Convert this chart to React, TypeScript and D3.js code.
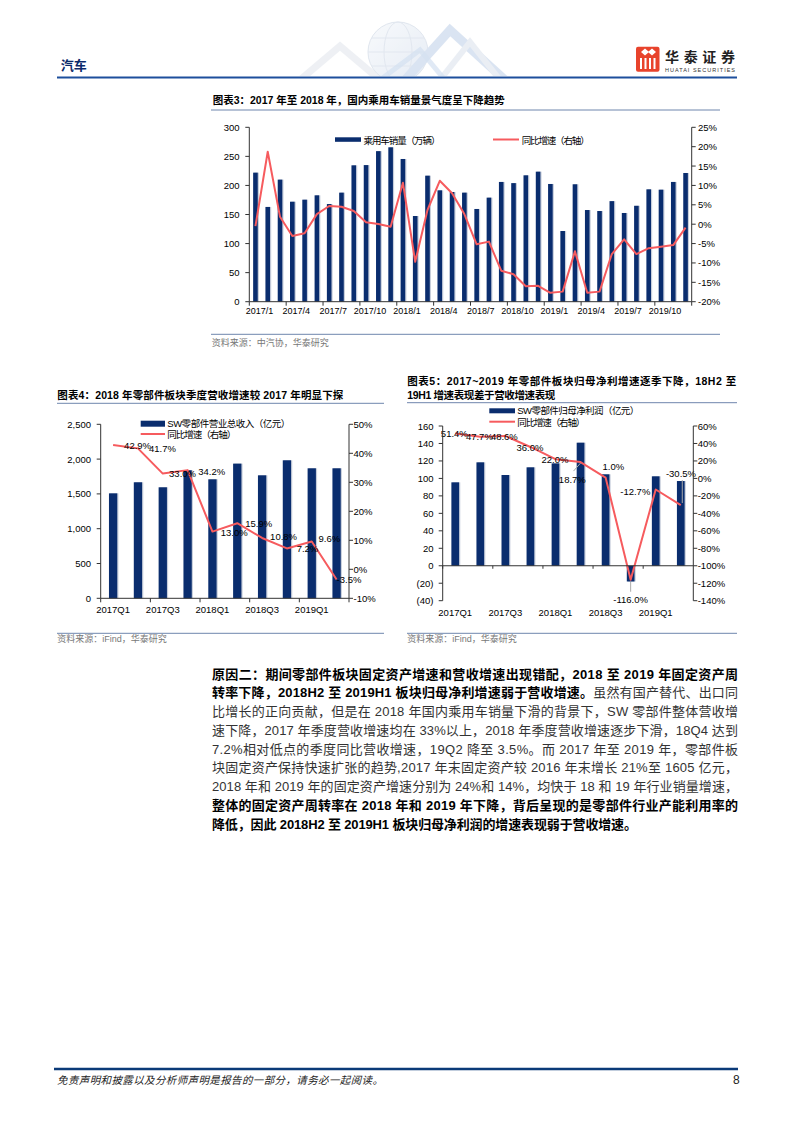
import React from "react";
import * as d3 from "d3";

// ---------- DATA ----------
const months = [
  "2017/1","2017/2","2017/3","2017/4","2017/5","2017/6","2017/7","2017/8","2017/9","2017/10","2017/11","2017/12",
  "2018/1","2018/2","2018/3","2018/4","2018/5","2018/6","2018/7","2018/8","2018/9","2018/10","2018/11","2018/12",
  "2019/1","2019/2","2019/3","2019/4","2019/5","2019/6","2019/7","2019/8","2019/9","2019/10","2019/11","2019/12",
];
const salesVolume = [
  222, 163, 210, 172, 175.5, 183, 168, 187.6, 234.6, 235, 259, 265.6,
  245.5, 147.4, 216.8, 191.6, 188.7, 187.6, 159.5, 179, 206, 204, 217.4, 223.7,
  202.5, 121.6, 202, 157.7, 156, 173, 152.6, 165, 193.3, 192.7, 206, 221.4,
];
const salesYoY = [
  -0.5, 18.7, 1.9, -3.05, -2.36, 2.6, 4.7, 4.5, 3.4, 0.5, 0.05, -0.64,
  10.7, -9.7, 3.66, 11.2, 8.0, 2.6, -5.2, -4.5, -12.0, -12.9, -16.0, -15.9,
  -17.7, -17.4, -7.0, -17.7, -17.4, -7.7, -3.9, -7.7, -6.2, -5.8, -5.4, -0.9,
];
const salesLeftTicks = [0, 50, 100, 150, 200, 250, 300];
const salesRightTicks = [-20, -15, -10, -5, 0, 5, 10, 15, 20, 25];

const quarters = ["2017Q1","2017Q2","2017Q3","2017Q4","2018Q1","2018Q2","2018Q3","2018Q4","2019Q1","2019Q2"];
const revenue = [1508, 1667, 1595, 1840, 1710, 1935, 1767, 1983, 1868, 1868];
const revenueYoY = [42.9, 41.7, 33.0, 34.2, 13.0, 15.9, 10.8, 7.2, 9.6, -3.5];
const revenueLeftTicks = [0, 500, 1000, 1500, 2000, 2500];
const revenueRightTicks = [-10, 0, 10, 20, 30, 40, 50];

const netProfit = [95.5, 118.4, 103.9, 112.7, 117.2, 140.9, 104.7, -18, 102.4, 97];
const profitYoY = [51.4, 47.7, 48.6, 36.0, 22.0, 18.7, 1.0, -116.0, -12.7, -30.5];
const profitLeftTicks = [-40, -20, 0, 20, 40, 60, 80, 100, 120, 140, 160];
const profitRightTicks = [-140, -120, -100, -80, -60, -40, -20, 0, 20, 40, 60];

// label layout offsets (px)
const revLabelOffsets = [[11,1],[11,0.6],[6.3,0],[10.7,1],[8.3,1],[8,0],[8,-1.3],[9.7,0],[6.7,-2.5],[0,0]];
const profLabelOffsets = [[-0.9,0],[-0.9,0],[-1,0.7],[-0.4,0.7],[-0.5,0],[-8.2,17.3],[7.7,-10.9],[0,19.6],[-20.4,1.5],[0.2,-31.7]];

const paragraph = [
  { w: 526, segs: [["原因二：期间零部件板块固定资产增速和营收增速出现错配，2018 至 2019 年固定资产周", true]] },
  { w: 526, segs: [["转率下降，2018H2 至 2019H1 板块归母净利增速弱于营收增速。", true], ["虽然有国产替代、出口同", false]] },
  { w: 526, segs: [["比增长的正向贡献，但是在 2018 年国内乘用车销量下滑的背景下，SW 零部件整体营收增", false]] },
  { w: 526, segs: [["速下降，2017 年季度营收增速均在 33%以上，2018 年季度营收增速逐步下滑，18Q4 达到", false]] },
  { w: 526, segs: [["7.2%相对低点的季度同比营收增速，19Q2 降至 3.5%。而 2017 年至 2019 年，零部件板", false]] },
  { w: 526, segs: [["块固定资产保持快速扩张的趋势,2017 年末固定资产较 2016 年末增长 21%至 1605 亿元，", false]] },
  { w: 526, segs: [["2018 年和 2019 年的固定资产增速分别为 24%和 14%，均快于 18 和 19 年行业销量增速，", false]] },
  { w: 526, segs: [["整体的固定资产周转率在 2018 年和 2019 年下降，背后呈现的是零部件行业产能利用率的", true]] },
  { w: 425, segs: [["降低，因此 2018H2 至 2019H1 板块归母净利润的增速表现弱于营收增速。", true]] },
];

// ---------- STYLE ----------
const FONT = "'Liberation Sans', Arial, 'Noto Sans CJK SC', sans-serif";
const CJK = "'Noto Sans CJK SC', sans-serif";
const BAR = "#0a2d6e";
const BAR_SHADOW = "#c7cedb";
const LINE = "#f65b5e";
const AXIS = "#333";
const RULE = "#6f86ad";

function SalesChart() {
  const left = 249.3, right = 691.7, top = 127.3, bottom = 301.7;
  const x = d3.scaleBand<string>().domain(months).range([left, right]);
  const yL = d3.scaleLinear().domain([0, 300]).range([bottom, top]);
  const yR = d3.scaleLinear().domain([-20, 25]).range([bottom, top]);
  const bw = 4.6;
  const cx = (m: string) => (x(m) as number) + x.bandwidth() / 2;
  const line = d3.line<number>().x((_, i) => cx(months[i])).y((d) => yR(d));
  return (
    <g fontFamily={FONT}>
      <text x={212.7} y={100} fontSize={10.5} fontWeight="bold" dominantBaseline="central" fontFamily={FONT} textLength={292}>
        图表3：2017 年至 2018 年，国内乘用车销量景气度呈下降趋势
      </text>
      <line x1={211} x2={720} y1={110} y2={110} stroke={RULE} strokeWidth={1} />
      {months.map((m, i) => (
        <g key={m}>
          <rect x={cx(m) - bw / 2 + 1.2} y={yL(salesVolume[i])} width={bw} height={bottom - yL(salesVolume[i])} fill={BAR_SHADOW} />
          <rect x={cx(m) - bw / 2} y={yL(salesVolume[i])} width={bw} height={bottom - yL(salesVolume[i])} fill={BAR} />
        </g>
      ))}
      <path d={line(salesYoY) || ""} fill="none" stroke={LINE} strokeWidth={2} strokeLinejoin="round" />
      <line x1={left} x2={left} y1={top} y2={bottom} stroke={AXIS} />
      <line x1={right} x2={right} y1={top} y2={bottom} stroke={AXIS} />
      <line x1={left} x2={right} y1={bottom} y2={bottom} stroke={AXIS} />
      {salesLeftTicks.map((t) => (
        <g key={"l" + t}>
          <line x1={left - 4} x2={left} y1={yL(t)} y2={yL(t)} stroke={AXIS} />
          <text x={239.5} y={yL(t)} fontSize={9.5} textAnchor="end" dominantBaseline="central">{t}</text>
        </g>
      ))}
      {salesRightTicks.map((t) => (
        <g key={"r" + t}>
          <line x1={right} x2={right + 4} y1={yR(t)} y2={yR(t)} stroke={AXIS} />
          <text x={698} y={yR(t)} fontSize={9.5} dominantBaseline="central">{t + "%"}</text>
        </g>
      ))}
      {months.map((m, i) =>
        i % 3 === 0 ? (
          <g key={"x" + m}>
            <line x1={x(m) as number} x2={x(m) as number} y1={bottom} y2={bottom + 4} stroke={AXIS} />
            <text x={cx(m) + 4} y={310.5} fontSize={9} textAnchor="middle" dominantBaseline="central">{m}</text>
          </g>
        ) : null
      )}
      <line x1={right} x2={right} y1={bottom} y2={bottom + 4} stroke={AXIS} />
      <rect x={335} y={137.3} width={26} height={4.5} fill={BAR} />
      <text x={363.5} y={139.5} fontSize={9.5} fontFamily={CJK} dominantBaseline="central" textLength={77}>乘用车销量（万辆）</text>
      <line x1={493} x2={519} y1={139.5} y2={139.5} stroke={LINE} strokeWidth={2} />
      <text x={521.7} y={139.5} fontSize={9.5} fontFamily={CJK} dominantBaseline="central" textLength={68}>同比增速（右轴）</text>
      <line x1={211} x2={720} y1={334.3} y2={334.3} stroke={RULE} strokeWidth={1} />
      <text x={211.7} y={342.7} fontSize={9} fill="#777" fontFamily={CJK} dominantBaseline="central">资料来源：中汽协，华泰研究</text>
    </g>
  );
}

function RevenueChart() {
  const left = 100.7, right = 349, top = 424.3, bottom = 598.3;
  const x = d3.scaleBand<string>().domain(quarters).range([left, right]);
  const yL = d3.scaleLinear().domain([0, 2500]).range([bottom, top]);
  const yR = d3.scaleLinear().domain([-10, 50]).range([bottom, top]);
  const bw = 8.3;
  const cx = (q: string) => (x(q) as number) + x.bandwidth() / 2;
  const line = d3.line<number>().x((_, i) => cx(quarters[i])).y((d) => yR(d));
  const fmt = d3.format(",");
  return (
    <g fontFamily={FONT}>
      <text x={57.3} y={395} fontSize={10.5} fontWeight="bold" dominantBaseline="central" textLength={286}>
        图表4：2018 年零部件板块季度营收增速较 2017 年明显下探
      </text>
      <line x1={57} x2={384} y1={403.3} y2={403.3} stroke={RULE} strokeWidth={1} />
      {quarters.map((q, i) => (
        <g key={q}>
          <rect x={cx(q) - bw / 2 + 1.2} y={yL(revenue[i])} width={bw} height={bottom - yL(revenue[i])} fill={BAR_SHADOW} />
          <rect x={cx(q) - bw / 2} y={yL(revenue[i])} width={bw} height={bottom - yL(revenue[i])} fill={BAR} />
        </g>
      ))}
      <path d={line(revenueYoY) || ""} fill="none" stroke={LINE} strokeWidth={2} strokeLinejoin="round" />
      {revenueYoY.map((v, i) => (
        <text key={"lab" + i} x={cx(quarters[i]) + revLabelOffsets[i][0]} y={yR(v) + revLabelOffsets[i][1]} fontSize={9.5} dominantBaseline="central">
          {v.toFixed(1) + "%"}
        </text>
      ))}
      <line x1={left} x2={left} y1={top} y2={bottom} stroke={AXIS} />
      <line x1={right} x2={right} y1={top} y2={bottom} stroke={AXIS} />
      <line x1={left} x2={right} y1={bottom} y2={bottom} stroke={AXIS} />
      {revenueLeftTicks.map((t) => (
        <g key={"l" + t}>
          <line x1={left - 4} x2={left} y1={yL(t)} y2={yL(t)} stroke={AXIS} />
          <text x={91} y={yL(t)} fontSize={9.5} textAnchor="end" dominantBaseline="central">{fmt(t)}</text>
        </g>
      ))}
      {revenueRightTicks.map((t) => (
        <g key={"r" + t}>
          <line x1={right} x2={right + 4} y1={yR(t)} y2={yR(t)} stroke={AXIS} />
          <text x={353.5} y={yR(t)} fontSize={9.5} dominantBaseline="central">{t + "%"}</text>
        </g>
      ))}
      {quarters.map((q, i) =>
        i % 2 === 0 ? (
          <g key={"x" + q}>
            <line x1={x(q) as number} x2={x(q) as number} y1={bottom} y2={bottom + 4} stroke={AXIS} />
            <text x={cx(q)} y={609.3} fontSize={9.5} textAnchor="middle" dominantBaseline="central">{q}</text>
          </g>
        ) : null
      )}
      <line x1={right} x2={right} y1={bottom} y2={bottom + 4} stroke={AXIS} />
      <rect x={140.7} y={420.7} width={24.3} height={6} fill={BAR} />
      <text x={167.3} y={423.7} fontSize={9.5} dominantBaseline="central" textLength={123}>SW零部件营业总收入（亿元）</text>
      <line x1={140.7} x2={165} y1={434} y2={434} stroke={LINE} strokeWidth={2} />
      <text x={167.3} y={434} fontSize={9.5} fontFamily={CJK} dominantBaseline="central" textLength={69}>同比增速（右轴）</text>
      <line x1={57} x2={384} y1={633.3} y2={633.3} stroke={RULE} strokeWidth={1} />
      <text x={57.3} y={638.5} fontSize={9} fill="#777" dominantBaseline="central">资料来源：iFind，华泰研究</text>
    </g>
  );
}

function ProfitChart() {
  const left = 442.7, right = 693.3, top = 426, bottom = 600.7;
  const x = d3.scaleBand<string>().domain(quarters).range([left, right]);
  const yL = d3.scaleLinear().domain([-40, 160]).range([bottom, top]);
  const yR = d3.scaleLinear().domain([-140, 60]).range([bottom, top]);
  const bw = 7.7;
  const zero = yL(0);
  const cx = (q: string) => (x(q) as number) + x.bandwidth() / 2;
  const line = d3.line<number>().x((_, i) => cx(quarters[i])).y((d) => yR(d));
  const fmtL = (t: number) => (t < 0 ? `(${Math.abs(t)})` : `${t}`);
  const leaders = [
    [cx(quarters[5]), yR(profitYoY[5]) + 1, cx(quarters[5]) - 7, yR(profitYoY[5]) + 9],
    [cx(quarters[7]), yR(profitYoY[7]) + 2, cx(quarters[7]), yR(profitYoY[7]) + 12],
    [cx(quarters[9]) + 1.5, yR(profitYoY[9]) - 25, cx(quarters[9]) + 1.5, yR(profitYoY[9]) - 2],
  ];
  return (
    <g fontFamily={FONT}>
      <text x={407.3} y={380.7} fontSize={10.5} fontWeight="bold" dominantBaseline="central" textLength={329}>
        图表5：2017~2019 年零部件板块归母净利增速逐季下降，18H2 至
      </text>
      <text x={407.3} y={395} fontSize={10.5} fontWeight="bold" dominantBaseline="central" textLength={148}>
        19H1 增速表现差于营收增速表现
      </text>
      <line x1={407} x2={737} y1={402.7} y2={402.7} stroke={RULE} strokeWidth={1} />
      {quarters.map((q, i) => {
        const y0 = Math.min(yL(netProfit[i]), zero);
        const h = Math.abs(yL(netProfit[i]) - zero);
        return (
          <g key={q}>
            <rect x={cx(q) - bw / 2 + 1.2} y={y0} width={bw} height={h} fill={BAR_SHADOW} />
            <rect x={cx(q) - bw / 2} y={y0} width={bw} height={h} fill={BAR} />
          </g>
        );
      })}
      {leaders.map((l, i) => (
        <line key={"ld" + i} x1={l[0]} y1={l[1]} x2={l[2]} y2={l[3]} stroke="#aaa" strokeWidth={1} />
      ))}
      <path d={line(profitYoY) || ""} fill="none" stroke={LINE} strokeWidth={2} strokeLinejoin="round" />
      {profitYoY.map((v, i) => (
        <text key={"lab" + i} x={cx(quarters[i]) + profLabelOffsets[i][0]} y={yR(v) + profLabelOffsets[i][1]} fontSize={9.5} textAnchor="middle" dominantBaseline="central">
          {v.toFixed(1) + "%"}
        </text>
      ))}
      <line x1={left} x2={left} y1={top} y2={bottom} stroke={AXIS} />
      <line x1={right} x2={right} y1={top} y2={bottom} stroke={AXIS} />
      <line x1={left} x2={right} y1={zero} y2={zero} stroke={AXIS} />
      {profitLeftTicks.map((t) => (
        <g key={"l" + t}>
          <line x1={left - 4} x2={left} y1={yL(t)} y2={yL(t)} stroke={AXIS} />
          <text x={433.5} y={yL(t)} fontSize={9.5} textAnchor="end" dominantBaseline="central">{fmtL(t)}</text>
        </g>
      ))}
      {profitRightTicks.map((t) => (
        <g key={"r" + t}>
          <line x1={right} x2={right + 4} y1={yR(t)} y2={yR(t)} stroke={AXIS} />
          <text x={697.7} y={yR(t)} fontSize={9.5} dominantBaseline="central">{t + "%"}</text>
        </g>
      ))}
      {quarters.map((q, i) =>
        i % 2 === 0 ? (
          <g key={"x" + q}>
            <line x1={x(q) as number} x2={x(q) as number} y1={zero} y2={zero + 3} stroke={AXIS} />
            <text x={cx(q)} y={612.7} fontSize={9.5} textAnchor="middle" dominantBaseline="central">{q}</text>
          </g>
        ) : null
      )}
      <rect x={489.3} y={408.3} width={25.7} height={5} fill={BAR} />
      <text x={517.3} y={410.8} fontSize={9.5} dominantBaseline="central" textLength={122}>SW零部件归母净利润（亿元）</text>
      <line x1={489.3} x2={515} y1={421.7} y2={421.7} stroke={LINE} strokeWidth={2} />
      <text x={517.3} y={421.7} fontSize={9.5} fontFamily={CJK} dominantBaseline="central" textLength={68}>同比增速（右轴）</text>
      <line x1={407} x2={737} y1={633.3} y2={633.3} stroke={RULE} strokeWidth={1} />
      <text x={407.3} y={638.5} fontSize={9} fill="#777" dominantBaseline="central">资料来源：iFind，华泰研究</text>
    </g>
  );
}

function Header() {
  return (
    <g>
      <defs>
        <clipPath id="hdrclip">
          <rect x={280} y={18} width={280} height={58} />
        </clipPath>
        <linearGradient id="globeg" x1="0" y1="0" x2="1" y2="1">
          <stop offset="0" stopColor="#f4f7fb" />
          <stop offset="1" stopColor="#d6e0ee" />
        </linearGradient>
      </defs>
      <g clipPath="url(#hdrclip)" opacity={0.6}>
        <polyline points="300,80 340,46 380,80" fill="none" stroke="#e3e7ee" strokeWidth={7} />
        <circle cx={398} cy={52} r={30} fill="url(#globeg)" stroke="#ccd6e4" strokeWidth={1} />
        <ellipse cx={398} cy={52} rx={14} ry={30} fill="none" stroke="#cfd8e6" />
        <line x1={368} x2={428} y1={52} y2={52} stroke="#cfd8e6" />
        <line x1={372} x2={424} y1={38} y2={38} stroke="#cfd8e6" />
        <line x1={372} x2={424} y1={66} y2={66} stroke="#cfd8e6" />
        <polyline points="405,80 450,30 505,80" fill="none" stroke="#c3d3ea" strokeWidth={9} />
        <polyline points="440,80 470,42 500,80" fill="none" stroke="#dde4ee" strokeWidth={6} />
        <polyline points="380,80 420,50 445,80" fill="none" stroke="#b8cde8" strokeWidth={5} opacity={0.7} />
      </g>
      <text x={60.7} y={64} fontSize={13} fontWeight="bold" fill="#0b2a6b" fontFamily={CJK} dominantBaseline="central">汽车</text>
      <line x1={57} x2={737} y1={77.5} y2={77.5} stroke="#1d4f9c" strokeWidth={2.2} />
      <rect x={636} y={46.7} width={23.5} height={25} rx={2} fill="#e8432c" />
      <path d="M641,52 L645,48.5 L649,52 L645,55.5 Z M648,52 L652,48.5 L656,52 L652,55.5 Z" fill="#fff" />
      <rect x={640} y={58} width={2} height={11} fill="#fff" />
      <rect x={644.5} y={58} width={2} height={11} fill="#fff" />
      <rect x={649} y={58} width={2} height={11} fill="#fff" />
      <rect x={653.5} y={58} width={2} height={11} fill="#fff" />
      <text x={665} y={56} fontSize={14} fontWeight="bold" fill="#222" fontFamily={CJK} dominantBaseline="central" textLength={70}>华泰证券</text>
      <text x={665} y={70.3} fontSize={5.5} fill="#333" fontFamily={FONT} dominantBaseline="central" textLength={70}>HUATAI SECURITIES</text>
    </g>
  );
}

function Paragraph() {
  return (
    <g fontFamily={FONT}>
      {paragraph.map((ln, i) => (
        <text key={i} x={212} y={673.5 + i * 18.75} fontSize={13} dominantBaseline="central" textLength={ln.w} lengthAdjust="spacing">
          {ln.segs.map((s, j) => (
            <tspan key={j} fontWeight={s[1] ? "bold" : "normal"} fill={s[1] ? "#000" : "#333"}>{s[0] as string}</tspan>
          ))}
        </text>
      ))}
    </g>
  );
}

function Footer() {
  return (
    <g>
      <line x1={54} x2={738} y1={1069} y2={1069} stroke="#0b3a78" strokeWidth={2.5} />
      <text x={57} y={1079.5} fontSize={10.5} fontStyle="italic" fill="#222" fontFamily={CJK} dominantBaseline="central" textLength={326}>
        免责声明和披露以及分析师声明是报告的一部分，请务必一起阅读。
      </text>
      <text x={733} y={1079.5} fontSize={12} fill="#222" fontFamily={FONT} dominantBaseline="central">8</text>
    </g>
  );
}

export default function App() {
  return (
    <svg
      width={794}
      height={1123}
      viewBox="0 0 794 1123"
      style={{ position: "absolute", left: 0, top: 0, display: "block", background: "#fff" }}
    >
      <rect x={0} y={0} width={794} height={1123} fill="#fff" />
      <Header />
      <SalesChart />
      <RevenueChart />
      <ProfitChart />
      <Paragraph />
      <Footer />
    </svg>
  );
}
